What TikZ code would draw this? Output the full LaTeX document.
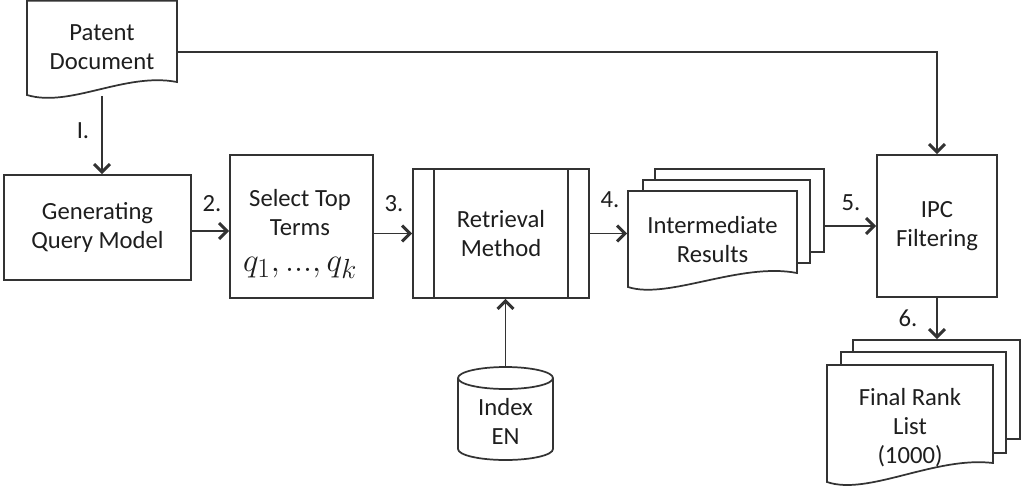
\documentclass[tikz,border=0pt]{standalone}
\usepackage{fontspec}
\setmainfont{Carlito}
\usetikzlibrary{arrows.meta,calc}
\definecolor{linec}{HTML}{333333}
\definecolor{textc}{HTML}{1E1E1E}
\begin{document}
\begin{tikzpicture}[x=0.75pt,y=-0.75pt,line width=1.3pt,
  box/.style={draw=linec,fill=white,inner sep=0pt,align=center,text=textc,
    font=\fontsize{18.5}{21.75}\selectfont},
  ghost/.style={draw=none,inner sep=0pt,align=center,text=textc,
    font=\fontsize{18.5}{21.75}\selectfont},
  sheet/.style={draw=linec,fill=white},
  arr/.style={draw=linec,-{Straight Barb[length=6pt,width=12pt,line width=2.2pt]}},
  lab/.style={text=textc,font=\fontsize{18.5}{21.75}\selectfont,inner sep=0pt}]
\useasboundingbox (0,0) rectangle (1026,490);

% Patent document
\draw[sheet] (27,0.8) -- (27,95) .. controls (70,108) and (125,72) .. (177,82) -- (177,0.8) -- cycle;
\node[ghost,minimum width=112.5pt,minimum height=71.25pt] (pat) at (102,47.5) {Patent\\Document};

% Generating Query Model
\node[box,minimum width=140.25pt,minimum height=78.75pt] (gen) at (97.5,227.5) {Generating\\Query Model};

% Select Top Terms
\node[box,minimum width=107.25pt,minimum height=107.25pt] (sel) at (301.5,226.5) {};
\node[lab,align=center] (seltext) at (300,234) {Select Top\\Terms\\[5pt]{\fontsize{29}{30}\selectfont$q_1, ..., q_k$}};

% Retrieval Method
\node[box,minimum width=132pt,minimum height=96.75pt] (ret) at (501,233.5) {Retrieval\\Method};
\draw[linec] ([xshift=16.5pt]ret.north west) -- ([xshift=16.5pt]ret.south west);
\draw[linec] ([xshift=-16.5pt]ret.north east) -- ([xshift=-16.5pt]ret.south east);

% Intermediate Results (stack)
\draw[sheet] (655,169) rectangle (824,252);
\node[ghost,minimum width=126.75pt,minimum height=62.25pt] (irback) at (739.5,210.5) {};
\draw[sheet] (643,180) rectangle (810,263);
\draw[sheet] (628,191) -- (628,287) .. controls (668,300) and (740,262) .. (797,273) -- (797,191) -- cycle;
\node[ghost,minimum width=126.75pt,minimum height=72pt] (ir) at (712.5,240) {Intermediate\\Results};

% IPC Filtering
\node[box,minimum width=90pt,minimum height=106.5pt] (ipc) at (937,226) {IPC\\Filtering};

% Index EN
\draw[sheet] (458,378) -- (458,449) arc[start angle=180,end angle=0,x radius=47.5,y radius=11] -- (553,378) arc[start angle=0,end angle=-180,x radius=47.5,y radius=11] -- cycle;
\draw[linec] (458,378) arc[start angle=180,end angle=0,x radius=47.5,y radius=11];
\node[ghost,minimum width=71.25pt,minimum height=69.75pt] (idx) at (505.5,413.5) {};
\node[lab,align=center] at (505.5,421) {Index\\EN};

% Final Rank List (stack)
\draw[sheet] (853,340) rectangle (1020,439);
\node[ghost,minimum width=125.25pt,minimum height=74.25pt] (finback) at (936.5,389.5) {};
\draw[sheet] (841,352) rectangle (1006,453);
\draw[sheet] (827,365) -- (827,482) .. controls (868,496) and (935,456) .. (993,463) -- (993,365) -- cycle;
\node[ghost,minimum width=124.5pt,minimum height=87.75pt] (fin) at (910,428) {Final Rank\\List\\(1000)};

% Connectors
\draw[arr] (pat.south) -- (pat.south |- gen.north);
\draw[arr] (gen.east |- 0,231) -- (sel.west |- 0,231);
\draw[arr] (sel.east |- ret.west) -- (ret.west);
\draw[arr] (ret.east) -- (ret.east -| ir.west);
\draw[arr] (irback.east |- ipc.west) -- (ipc.west);
\draw[arr] (pat.east |- 0,52) -| (ipc.north);
\draw[arr] (idx.north) -- (idx.north |- ret.south);
\draw[arr] (ipc.south) -- (ipc.south |- finback.north);

% Step labels
\node[lab] at (83,131) {I.};
\node[lab] at (212,204) {2.};
\node[lab] at (394,204) {3.};
\node[lab] at (610,200) {4.};
\node[lab] at (851,203) {5.};
\node[lab] at (908,318) {6.};
\end{tikzpicture}
\end{document}
